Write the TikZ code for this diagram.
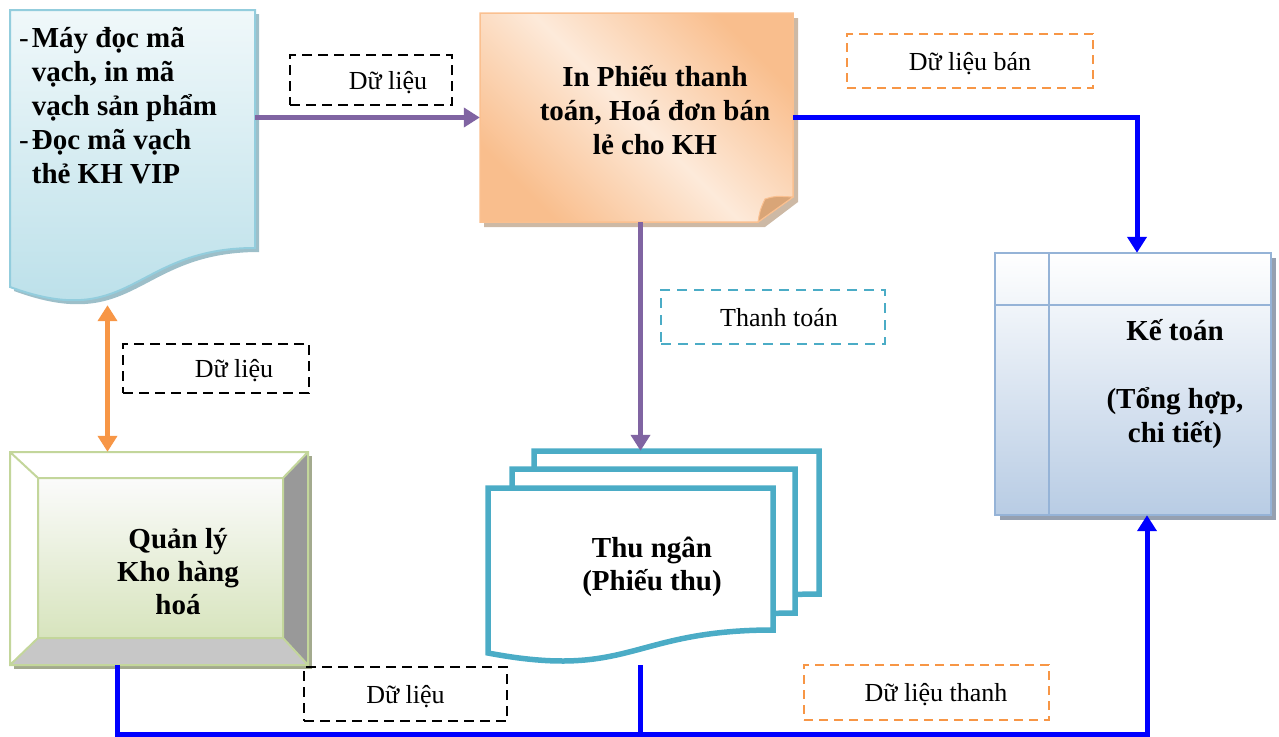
\documentclass[tikz,border=0pt]{standalone}
\usepackage{fontspec}
\setmainfont{Liberation Serif}
\usetikzlibrary{arrows.meta, positioning}

\definecolor{docline}{HTML}{93CDDD}
\definecolor{doctop}{HTML}{F0F8FA}
\definecolor{docbot}{HTML}{B7DEE8}
\definecolor{docshadow}{HTML}{9DBFC9}
\definecolor{noteline}{HTML}{FAC090}
\definecolor{notelight}{HTML}{FDEADA}
\definecolor{notedark}{HTML}{F9BE8D}
\definecolor{noteflap}{HTML}{D9A577}
\definecolor{noteshadow}{HTML}{CDB9A5}
\definecolor{acctline}{HTML}{95B3D7}
\definecolor{acctbot}{HTML}{B8CCE4}
\definecolor{acctshadow}{HTML}{95A0B0}
\definecolor{storeline}{HTML}{C3D69B}
\definecolor{storetop}{HTML}{FBFBFB}
\definecolor{storebot}{HTML}{D7E4BD}
\definecolor{storeshadow}{HTML}{A3AA8E}
\definecolor{cashline}{HTML}{4BACC6}
\definecolor{flowpurple}{HTML}{8064A2}
\definecolor{floworange}{HTML}{F79646}

\begin{document}
\begin{tikzpicture}[
	x=1pt, y=-1pt,
	frame/.style={rectangle, draw=none, inner sep=0pt},
	title/.style={font=\fontsize{29}{34}\selectfont\bfseries, inner sep=0pt, anchor=base},
	tag/.style={rectangle, draw=#1, line width=2pt, dash pattern=on 10pt off 6pt, inner sep=0pt, text height=18pt, text depth=0pt, font=\fontsize{26}{30}\selectfont},
	flow/.style={line width=5pt, -{Triangle[length=16pt, width=19pt]}},
	pair/.style={line width=5pt, {Triangle[length=16pt, width=19pt]}-{Triangle[length=16pt, width=19pt]}},
	wire/.style={line width=5pt}
]
	\useasboundingbox (0,0) rectangle (1279,736);

	% Scanner (document shape)
	\fill[docshadow] (14,14) -- (259,14) -- (259,252) .. controls (136.5,252) and (136.5,336) .. (14,291) -- cycle;
	\draw[line width=2pt, draw=docline, top color=doctop, bottom color=docbot] (10,10) -- (255,10) -- (255,248) .. controls (132.5,248) and (132.5,332) .. (10,287) -- cycle;
	\node[frame, minimum width=245pt, minimum height=295pt] (scanner) at (132.5,157.5) {};

	% Receipt printing (folded note)
	\fill[noteshadow] (484,18) -- (798,18) -- (798,202) -- (765,227) -- (484,227) -- cycle;
	\draw[line width=1.5pt, draw=noteline, top color=notedark, bottom color=notedark, middle color=notelight, shading angle=-45] (480,13) -- (793,13) -- (793,197) -- (758,222) -- (480,222) -- cycle;
	\draw[line width=1pt, draw=noteline, fill=noteflap] (758,222) .. controls (760,210) .. (765,199) .. controls (775,196) .. (793,197) -- cycle;
	\node[frame, minimum width=313pt, minimum height=209pt] (note) at (636.5,117.5) {};

	% Accounting (internal storage)
	\fill[acctshadow] (1000,258) rectangle (1276,520);
	\draw[line width=2pt, draw=acctline, top color=white, bottom color=acctbot] (995,253) rectangle (1271,515);
	\draw[line width=2pt, acctline] (1049,253) -- (1049,515) (995,305) -- (1271,305);
	\node[frame, minimum width=276pt, minimum height=262pt] (acct) at (1133,384) {};

	% Warehouse (bevel)
	\fill[storeshadow] (14,456) rectangle (312,669);
	\fill[white] (10,452) rectangle (308,665);
	\fill[gray!80] (308,452) -- (308,665) -- (283,638) -- (283,478) -- cycle;
	\fill[black!22] (10,665) -- (308,665) -- (283,638) -- (38,638) -- cycle;
	\shade[top color=storetop, bottom color=storebot] (38,478) rectangle (283,638);
	\draw[storeline, line width=2pt] (10,452) rectangle (308,665) (38,478) rectangle (283,638)
		(10,452) -- (38,478) (308,452) -- (283,478) (10,665) -- (38,638) (308,665) -- (283,638);
	\node[frame, minimum width=298pt, minimum height=213pt] (store) at (159,558.5) {};

	% Cashier (multi document)
	\draw[cashline, line width=5.5pt, fill=white] (534,451) -- (819,451) -- (819,594) .. controls (676.5,594) and (676.5,644.5) .. (534,617.5) -- cycle;
	\draw[cashline, line width=5.5pt, fill=white] (512,469) -- (795,469) -- (795,613) .. controls (653.5,613) and (653.5,664) .. (512,636.5) -- cycle;
	\draw[cashline, line width=5.5pt, fill=white] (488,488) -- (773,488) -- (773,630) .. controls (630.5,630) and (630.5,680) .. (488,653) -- cycle;
	\node[frame, minimum width=331pt, minimum height=214pt] (cash) at (653.5,558) {};

	% Texts
	\node[title, anchor=base west] (scannertext) at (19,47) {\begin{tabular}[t]{@{}l@{\kern3pt}l@{}}\textmd{-}&Máy đọc mã\\ &vạch, in mã\\ &vạch sản phẩm\\ \textmd{-}&Đọc mã vạch\\ &thẻ KH VIP\end{tabular}};
	\node[title] (notetext) at (655,86) {\begin{tabular}[t]{@{}c@{}}In Phiếu thanh\\ toán, Hoá đơn bán\\ lẻ cho KH\end{tabular}};
	\node[title] (accttext) at (1175,340) {\begin{tabular}[t]{@{}c@{}}Kế toán\\ \\ (Tổng hợp,\\ chi tiết)\end{tabular}};
	\node[title, font=\fontsize{29}{33}\selectfont\bfseries] (storetext) at (178,548) {\begin{tabular}[t]{@{}c@{}}Quản lý\\ Kho hàng\\ hoá\end{tabular}};
	\node[title, font=\fontsize{29}{33}\selectfont\bfseries] (cashtext) at (652,557) {\begin{tabular}[t]{@{}c@{}}Thu ngân\\ (Phiếu thu)\end{tabular}};

	% Labels
	\node[tag=black, minimum width=162pt, minimum height=50pt] (lbldata) at (371,80) {\hspace*{34pt}Dữ liệu};
	\node[tag=floworange, dash pattern=on 9pt off 6pt, minimum width=246pt, minimum height=54pt] (lblsales) at (970,61) {Dữ liệu bán};
	\node[tag=cashline, dash pattern=on 10pt off 7pt, minimum width=224pt, minimum height=54pt] (lblpay) at (773,317) {\hspace*{12pt}Thanh toán};
	\node[tag=black, minimum width=186pt, minimum height=49pt] (lblstock) at (216,368.5) {\hspace*{36pt}Dữ liệu};
	\node[tag=black, minimum width=203pt, minimum height=54pt] (lblbus) at (405.5,694) {Dữ liệu};
	\node[tag=floworange, dash pattern=on 9pt off 6pt, minimum width=245pt, minimum height=55pt] (lblpaid) at (926.5,692.5) {\hspace*{19pt}Dữ liệu thanh};

	% Arrows
	\coordinate (bus) at (640,734);
	\draw[flow, flowpurple] (scanner.east |- note.west) -- (note.west);
	\draw[flow, flowpurple] ([xshift=4pt]note.south) -- ([xshift=4pt]note.south |- cash.north);
	\draw[flow, blue] (note.east) -| ([xshift=4pt]acct.north);
	\draw[pair, floworange] ([xshift=-25pt]scanner.south) -- ([xshift=-25pt]scanner.south |- store.north);
	\draw[flow, blue] ([xshift=-42pt]store.south) |- (bus) -| ([xshift=14pt]acct.south);
	\draw[wire, blue] (cash.south -| bus) -- (bus);
\end{tikzpicture}
\end{document}
